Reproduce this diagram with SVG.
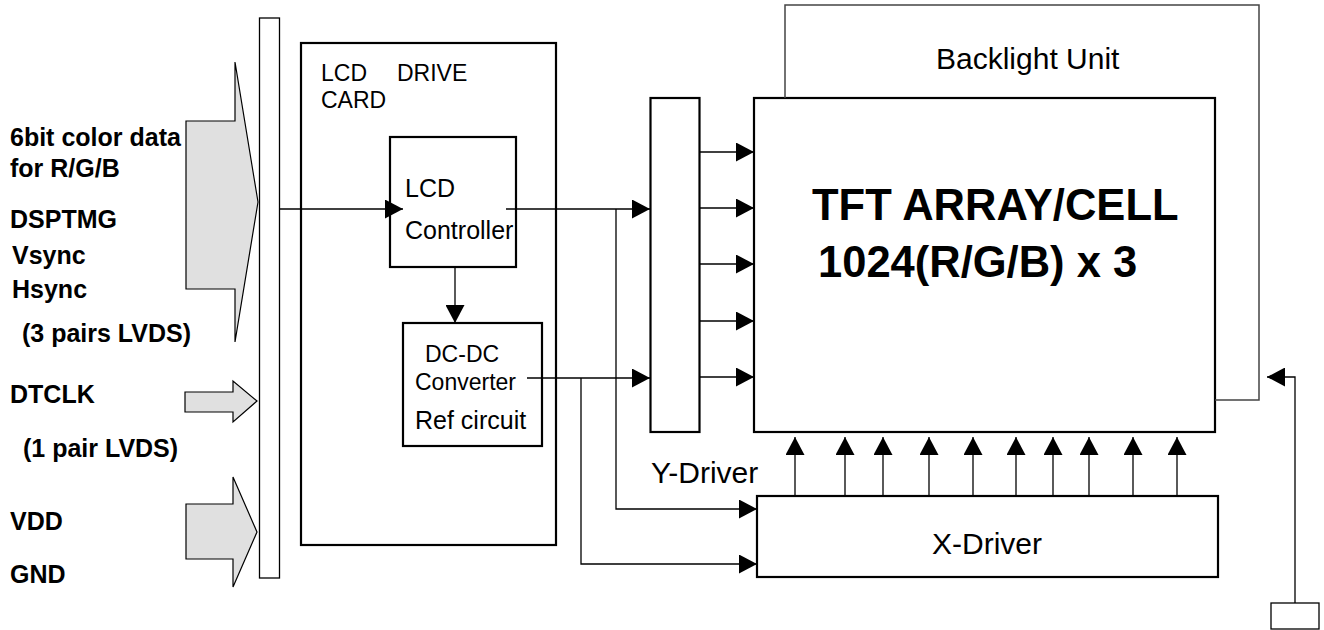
<svg xmlns="http://www.w3.org/2000/svg" width="1324" height="630" viewBox="0 0 1324 630">
<defs>
<marker id="ah" viewBox="0 0 18 19" markerWidth="18" markerHeight="19" refX="18" refY="9.5" orient="auto" markerUnits="userSpaceOnUse">
<path d="M0,0 L18,9.5 L0,19 z" fill="#000"/>
</marker>
<style>
.box{fill:#fff;stroke:#000;stroke-width:2.2}
.thin{fill:none;stroke:#000;stroke-width:1.3}
.bl{fill:none;stroke:#444;stroke-width:1.5}
.big{fill:#e0e0e0;stroke:#000;stroke-width:1.2}
.lb{font-family:"Liberation Sans",Arial,sans-serif;font-weight:bold;font-size:25px;fill:#000}
.t{font-family:"Liberation Sans",Arial,sans-serif;font-size:25px;fill:#000}
.ts{font-family:"Liberation Sans",Arial,sans-serif;font-size:23px;fill:#000}
.tl{font-family:"Liberation Sans",Arial,sans-serif;font-size:30px;fill:#000}
.tft{font-family:"Liberation Sans",Arial,sans-serif;font-weight:bold;font-size:43.5px;fill:#000}
</style>
</defs>
<rect width="1324" height="630" fill="#fff"/>

<g id="inputs">
<text class="lb" x="10" y="146">6bit color data</text>
<text class="lb" x="10" y="177">for R/G/B</text>
<text class="lb" x="10" y="228">DSPTMG</text>
<text class="lb" x="12" y="264">Vsync</text>
<text class="lb" x="12" y="298">Hsync</text>
<text class="lb" x="22" y="342">(3 pairs LVDS)</text>
<text class="lb" x="10" y="403">DTCLK</text>
<text class="lb" x="23" y="457">(1 pair LVDS)</text>
<text class="lb" x="10" y="530">VDD</text>
<text class="lb" x="10" y="583">GND</text>
<polygon class="big" points="186,121 235,121 235,62 258,202 235,342 235,289 186,289"/>
<polygon class="big" points="185,392 233,392 233,381 257,401 233,422 233,412 185,412"/>
<polygon class="big" points="186,504 233,504 233,477 257,532 233,587 233,559 186,559"/>
</g>

<g id="connector-bar">
<rect x="259.5" y="18" width="20" height="560" fill="#fff" stroke="#000" stroke-width="1.3"/>
</g>

<g id="lcd-drive-card">
<rect class="box" x="301" y="43" width="255" height="502"/>
<text class="ts" x="321" y="81">LCD</text>
<text class="ts" x="397" y="81">DRIVE</text>
<text class="ts" x="321" y="108">CARD</text>
</g>

<g id="lcd-controller">
<rect class="box" x="390" y="137" width="126" height="130"/>
<text class="t" x="405" y="197">LCD</text>
<text class="t" x="405" y="239">Controller</text>
</g>

<g id="dc-dc-converter">
<rect class="box" x="403" y="323" width="139" height="123"/>
<text class="ts" x="425" y="362">DC-DC</text>
<text class="ts" x="415" y="390">Converter</text>
<text class="t" x="415" y="429">Ref circuit</text>
</g>

<g id="y-driver">
<rect class="box" x="650.5" y="98" width="49" height="334"/>
<text class="tl" x="651" y="483">Y-Driver</text>
</g>

<g id="tft-array">
<rect class="box" x="754" y="98" width="461" height="334"/>
<text class="tft" x="812" y="220">TFT ARRAY/CELL</text>
<text class="tft" x="818" y="277">1024(R/G/B) x 3</text>
</g>

<g id="backlight">
<polyline class="bl" points="785,98 785,5 1259,5 1259,400 1215,400"/>
<text class="tl" x="936" y="69">Backlight Unit</text>
</g>

<g id="x-driver">
<rect class="box" x="757" y="496" width="461" height="81"/>
<text class="tl" x="987" y="554" text-anchor="middle">X-Driver</text>
</g>

<g id="source">
<rect x="1271" y="603" width="48" height="26" fill="#fff" stroke="#000" stroke-width="1.3"/>
</g>

<g id="connectors">
<line class="thin" x1="279" y1="209" x2="403" y2="209" marker-end="url(#ah)"/>
<line class="thin" x1="506" y1="209" x2="650" y2="209" marker-end="url(#ah)"/>
<polyline class="thin" points="616,209 616,509 757,509" marker-end="url(#ah)"/>
<line class="thin" x1="455" y1="268" x2="455" y2="323" marker-end="url(#ah)"/>
<line class="thin" x1="527" y1="378" x2="650" y2="378" marker-end="url(#ah)"/>
<polyline class="thin" points="581,378 581,564 757,564" marker-end="url(#ah)"/>
<line class="thin" x1="700" y1="152" x2="754" y2="152" marker-end="url(#ah)"/>
<line class="thin" x1="700" y1="208" x2="754" y2="208" marker-end="url(#ah)"/>
<line class="thin" x1="700" y1="264" x2="754" y2="264" marker-end="url(#ah)"/>
<line class="thin" x1="700" y1="321" x2="754" y2="321" marker-end="url(#ah)"/>
<line class="thin" x1="700" y1="377" x2="754" y2="377" marker-end="url(#ah)"/>
<line class="thin" x1="795" y1="496" x2="795" y2="437" marker-end="url(#ah)"/>
<line class="thin" x1="845" y1="496" x2="845" y2="437" marker-end="url(#ah)"/>
<line class="thin" x1="883" y1="496" x2="883" y2="437" marker-end="url(#ah)"/>
<line class="thin" x1="929" y1="496" x2="929" y2="437" marker-end="url(#ah)"/>
<line class="thin" x1="973" y1="496" x2="973" y2="437" marker-end="url(#ah)"/>
<line class="thin" x1="1016" y1="496" x2="1016" y2="437" marker-end="url(#ah)"/>
<line class="thin" x1="1053" y1="496" x2="1053" y2="437" marker-end="url(#ah)"/>
<line class="thin" x1="1089" y1="496" x2="1089" y2="437" marker-end="url(#ah)"/>
<line class="thin" x1="1133" y1="496" x2="1133" y2="437" marker-end="url(#ah)"/>
<line class="thin" x1="1177" y1="496" x2="1177" y2="437" marker-end="url(#ah)"/>
<polyline class="thin" points="1295,603 1295,377 1267,377" marker-end="url(#ah)"/>
</g>
</svg>
